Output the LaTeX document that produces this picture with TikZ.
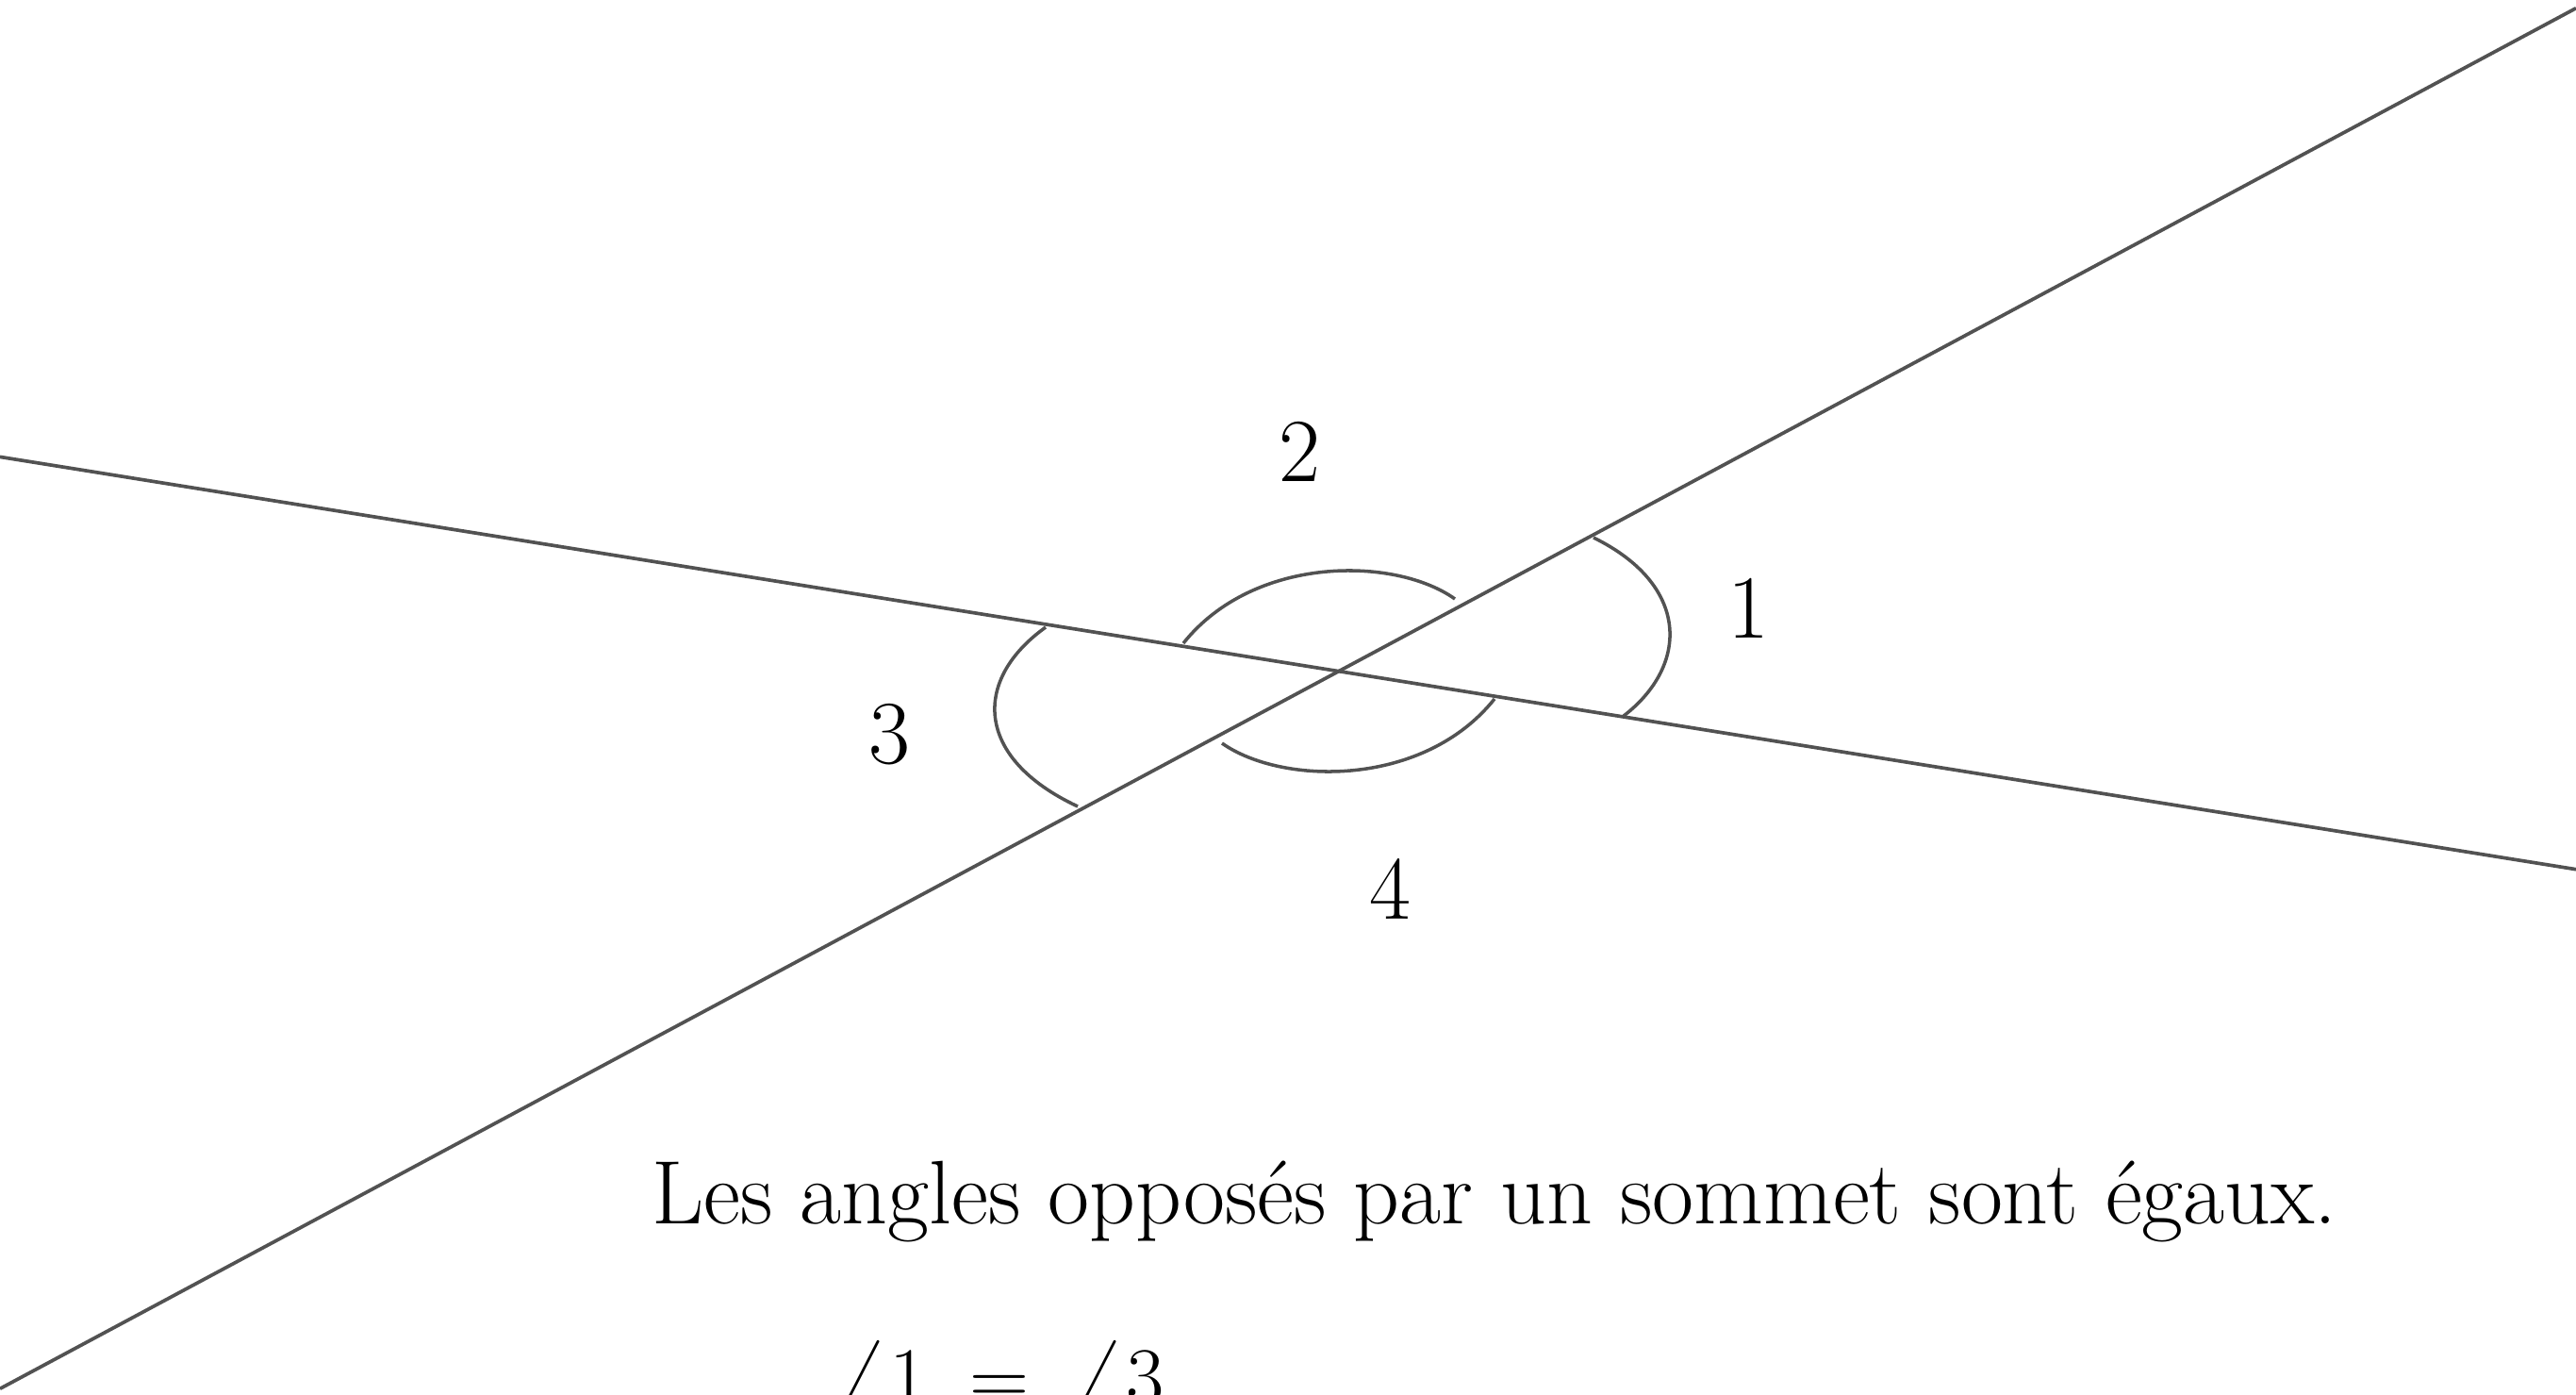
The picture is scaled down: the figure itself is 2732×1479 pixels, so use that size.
\documentclass[tikz,border=0pt]{standalone}
\usepackage{amsmath}
\definecolor{linegray}{HTML}{525252}
\begin{document}
\begin{tikzpicture}[x=0.01cm,y=-0.01cm,
  ray/.style={draw=linegray,line width=1.05pt},
  anglearc/.style={draw=linegray,line width=1pt},
  lbl/.style={inner sep=0pt,font=\fontsize{27.2}{32}\selectfont}]
\useasboundingbox (0,0) rectangle (2732,1479);
% lines
\coordinate (A1) at (0,484.4);
\coordinate (A2) at (2732,921.7);
\coordinate (B1) at (0,1472.3);
\coordinate (B2) at (2732,8.7);
\draw[ray] (A1) -- (A2);
\draw[ray] (B1) -- (B2);
% angle 1
\coordinate (a1s) at (1690,570);
\coordinate (a1e) at (1722,759);
\draw[anglearc] (a1s) .. controls (1792,620) and (1792,705) .. (a1e);
% angle 3
\coordinate (a3s) at (1109,665);
\coordinate (a3e) at (1143,855);
\draw[anglearc] (a3s) .. controls (1032,720) and (1032,803) .. (a3e);
% angle 2
\coordinate (a2s) at (1255,682);
\coordinate (a2e) at (1543,635);
\draw[anglearc] (a2s) .. controls (1330,588) and (1480,590) .. (a2e);
% angle 4
\coordinate (a4s) at (1296,788);
\coordinate (a4e) at (1585,741);
\draw[anglearc] (a4s) .. controls (1360,833) and (1510,835) .. (a4e);
% labels
\node[lbl] (l1) at (1854,645) {1};
\node[lbl] (l2) at (1378,479) {2};
\node[lbl] (l3) at (943,779) {3};
\node[lbl] (l4) at (1474,943) {4};
% text
\node[lbl,anchor=base west] (t1) at (691,1297) {Les angles opposés par un sommet sont égaux.};
\node[lbl,anchor=base west] (t2) at (886,1489) {$\angle 1\hspace{6pt}=\hspace{6pt}\angle 3$};
\end{tikzpicture}
\end{document}
